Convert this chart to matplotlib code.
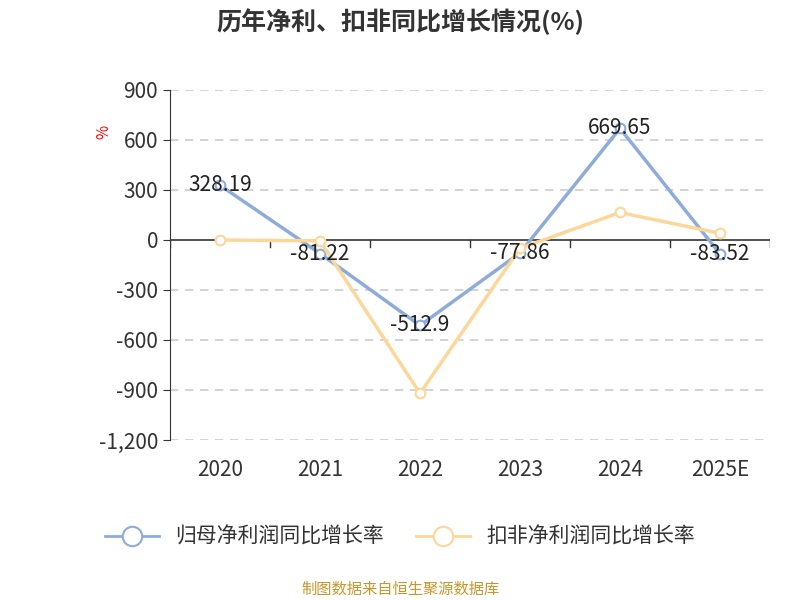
import matplotlib
matplotlib.use("Agg")
import matplotlib.pyplot as plt

plt.rcParams['font.family'] = ['Noto Sans CJK SC', 'DejaVu Sans']

years = ["2020", "2021", "2022", "2023", "2024", "2025E"]
net_growth = [328.19, -81.22, -512.9, -77.86, 669.65, -83.52]
deduct_growth = [0, -5, -920, -50, 165, 40]
yticks = [900, 600, 300, 0, -300, -600, -900, -1200]
ytick_labels = ["900", "600", "300", "0", "-300", "-600", "-900", "-1,200"]

fig = plt.figure(figsize=(8, 6), dpi=100)
ax = fig.add_axes([0.2125, 0.2667, 0.75, 0.5833])
x = list(range(len(years)))
blue = "#8eacd9"
orange = "#fbd89a"
ax.plot(x, net_growth, color=blue, lw=2.5, marker='o', ms=7, mfc='white', mec=blue, mew=1.5, zorder=3)
ax.plot(x, deduct_growth, color=orange, lw=2.5, marker='o', ms=7, mfc='white', mec=orange, mew=1.5, zorder=3)
for xi, v in zip(x, net_growth):
    ax.text(xi, v, f"{v:g}", ha='center', va='center', fontsize=15, color='#222222', zorder=4)

ax.set_xlim(-0.5, 5.5)
ax.set_ylim(-1200, 900)
ax.set_yticks(yticks)
ax.set_yticklabels(ytick_labels, fontsize=15, color='#333333')
ax.set_xticks(x)
ax.set_xticklabels(years, fontsize=15, color='#333333')
ax.tick_params(axis='x', length=0, pad=14)
ax.tick_params(axis='y', length=5, color='#333333')
for yv in yticks:
    if yv != 0:
        ax.axhline(yv, color='#cccccc', ls=(0, (5, 4)), lw=1.2, zorder=1)
ax.axhline(0, color='#333333', lw=1.2, zorder=2)
for b in [i + 0.5 for i in range(-1, 6)]:
    ax.plot([b, b], [0, -45], color='#333333', lw=1, zorder=2)
for s in ['top', 'right', 'bottom']:
    ax.spines[s].set_visible(False)
ax.spines['left'].set_color('#333333')

fig.text(0.13, 0.78, "%", color='red', fontsize=11, rotation=90, ha='center', va='center')
fig.text(0.5, 0.963, "历年净利、扣非同比增长情况(%)", ha='center', va='center', fontsize=18, fontweight='bold', color='#333333')

from matplotlib.lines import Line2D
h1 = Line2D([], [], color=blue, lw=2, marker='o', ms=14, mfc='white', mec=blue, mew=1.5)
h2 = Line2D([], [], color=orange, lw=2, marker='o', ms=14, mfc='white', mec=orange, mew=1.5)
fig.legend([h1, h2], ["归母净利润同比增长率", "扣非净利润同比增长率"], loc='center', bbox_to_anchor=(0.5, 0.105),
           ncol=2, frameon=False, fontsize=15, handlelength=2.6, columnspacing=1.5, labelcolor='#333333')
fig.text(0.5, 0.018, "制图数据来自恒生聚源数据库", ha='center', va='center', fontsize=11, color='#c8962a')
fig.savefig("out.png", dpi=100)
